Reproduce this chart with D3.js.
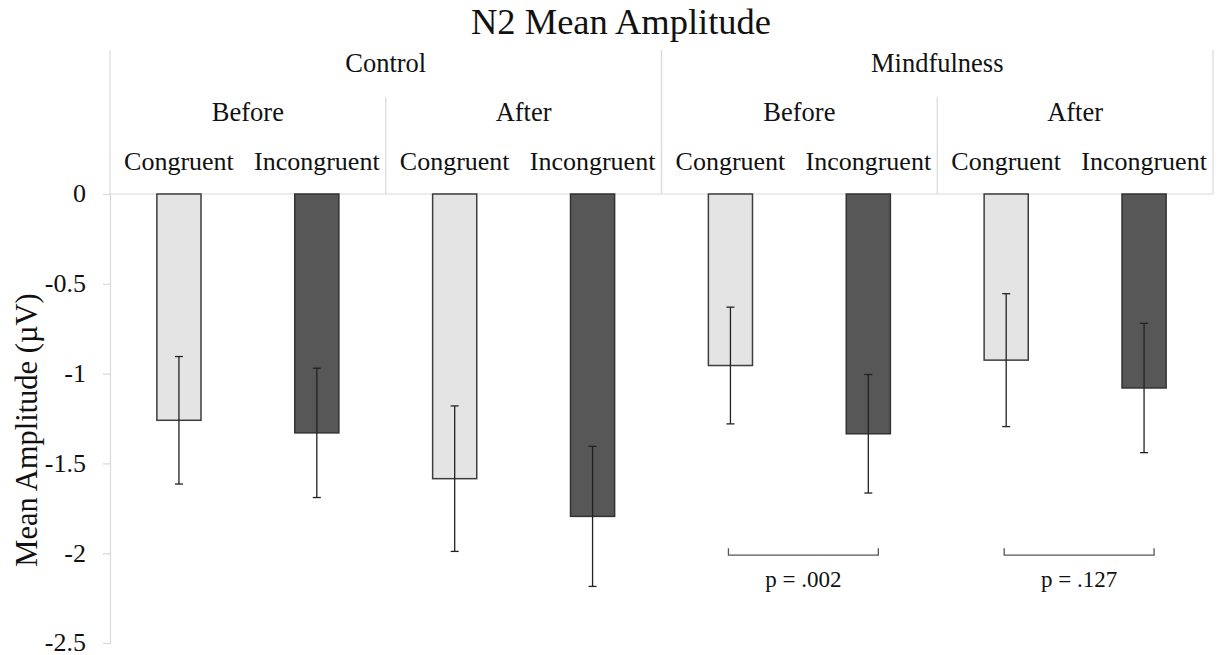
<!DOCTYPE html>
<html>
<head>
<meta charset="utf-8">
<script src="https://cdn.jsdelivr.net/npm/d3@7"></script>
<style>
  html, body { margin: 0; padding: 0; background: #fff; }
  svg text { font-family: "Liberation Serif", "Times New Roman", serif; fill: #111; }
</style>
</head>
<body>
<svg id="chart" width="1223" height="655"></svg>
<script>
// Hierarchical categories: group > session > condition
const groups = ["Control", "Mindfulness"];
const sessions = ["Before", "After"];
const conditions = ["Congruent", "Incongruent"];

// N2 mean amplitude (µV), one value per bar, in the order group > session > condition
const means = [-1.26, -1.33, -1.585, -1.795, -0.955, -1.335, -0.925, -1.08];
// Error bar half-widths (µV)
const errors = [0.355, 0.36, 0.405, 0.39, 0.325, 0.33, 0.37, 0.36];

// Y axis ticks and their labels
const yTicks = [0, -0.5, -1, -1.5, -2, -2.5];
const yTickLabels = ["0", "-0.5", "-1", "-1.5", "-2", "-2.5"];

// Significance brackets: bar index pairs and their labels
const brackets = [
  { from: 4, to: 5, label: "p = .002" },
  { from: 6, to: 7, label: "p = .127" }
];
const bracketLevel = -2.0;

const fills = { Congruent: "#e5e4e5", Incongruent: "#575757" };
const strokes = { Congruent: "#3d3d3d", Incongruent: "#333" };

// Flattened bar records
const bars = [];
groups.forEach(g => sessions.forEach(s => conditions.forEach(c => {
  const i = bars.length;
  bars.push({ key: `${g}|${s}|${c}`, group: g, session: s, condition: c, value: means[i], err: errors[i] });
})));

const svg = d3.select("#chart");
const left = 110, right = 1213, top0 = 194, bottom = 643;
const gridColor = "#d9d9d9";

const x = d3.scaleBand().domain(bars.map(d => d.key)).range([left, right]).padding(0);
const y = d3.scaleLinear().domain([0, -2.5]).range([top0, bottom]);
const barW = x.bandwidth() * 0.32;
const cx = d => x(d.key) + x.bandwidth() / 2;

// Title
svg.append("text")
  .attr("x", 621).attr("y", 34)
  .attr("text-anchor", "middle")
  .style("font-size", "36.5px")
  .text("N2 Mean Amplitude");

// Y axis
const yAxis = d3.axisLeft(y).tickValues(yTicks).tickSize(7).tickPadding(17)
  .tickFormat((d, i) => yTickLabels[i]);
const ga = svg.append("g").attr("transform", `translate(${left},0)`).call(yAxis);
ga.select(".domain").attr("stroke", gridColor).attr("stroke-width", 1.2);
ga.selectAll(".tick line").attr("stroke", gridColor).attr("stroke-width", 1.2);
ga.selectAll(".tick text")
  .style("font-family", '"Liberation Serif", "Times New Roman", serif')
  .style("font-size", "26px").attr("fill", "#111").attr("dy", "0.3em");

// Y axis title
svg.append("text")
  .attr("transform", `translate(37,430) rotate(-90)`)
  .attr("text-anchor", "middle")
  .style("font-size", "30.5px")
  .text("Mean Amplitude (µV)");

// Zero baseline spanning the category area
svg.append("line")
  .attr("x1", left).attr("x2", right).attr("y1", y(0)).attr("y2", y(0))
  .attr("stroke", gridColor).attr("stroke-width", 1.2);

// Multi-level category header
const groupKeys = g => bars.filter(b => b.group === g);
const sessionKeys = (g, s) => bars.filter(b => b.group === g && b.session === s);
const spanOf = arr => [x(arr[0].key), x(arr[arr.length - 1].key) + x.bandwidth()];

const head = svg.append("g");
groups.forEach(g => {
  const [a, b] = spanOf(groupKeys(g));
  head.append("text").attr("x", (a + b) / 2).attr("y", 72)
    .attr("text-anchor", "middle").style("font-size", "26.5px").text(g);
  [a, b].forEach(xx => head.append("line")
    .attr("x1", xx).attr("x2", xx).attr("y1", 50).attr("y2", y(0))
    .attr("stroke", gridColor).attr("stroke-width", 1.2));
  sessions.forEach((s, si) => {
    const [sa, sb] = spanOf(sessionKeys(g, s));
    head.append("text").attr("x", (sa + sb) / 2).attr("y", 121)
      .attr("text-anchor", "middle").style("font-size", "26.5px").text(s);
    if (si > 0) head.append("line")
      .attr("x1", sa).attr("x2", sa).attr("y1", 97).attr("y2", y(0))
      .attr("stroke", gridColor).attr("stroke-width", 1.2);
  });
});
head.selectAll(null).data(bars).enter().append("text")
  .attr("x", cx).attr("y", 170)
  .attr("text-anchor", "middle").style("font-size", "26px")
  .text(d => d.condition);

// Bars
svg.append("g").selectAll("rect").data(bars).enter().append("rect")
  .attr("x", d => cx(d) - barW / 2)
  .attr("y", y(0))
  .attr("width", barW)
  .attr("height", d => y(d.value) - y(0))
  .attr("fill", d => fills[d.condition])
  .attr("stroke", d => strokes[d.condition])
  .attr("stroke-width", 1.5);

// Error bars
const eb = svg.append("g").attr("stroke", "#222").attr("stroke-width", 1.3);
bars.forEach(d => {
  const c = cx(d);
  eb.append("line").attr("x1", c).attr("x2", c)
    .attr("y1", y(d.value + d.err)).attr("y2", y(d.value - d.err));
  [d.value + d.err, d.value - d.err].forEach(v => eb.append("line")
    .attr("x1", c - 4).attr("x2", c + 4).attr("y1", y(v)).attr("y2", y(v)));
});

// Significance brackets
const br = svg.append("g");
brackets.forEach(b => {
  const x1 = cx(bars[b.from]) - 2, x2 = cx(bars[b.to]) + 10;
  const yy = y(bracketLevel) + 2;
  br.append("path")
    .attr("d", `M${x1},${yy - 7}V${yy}H${x2}V${yy - 7}`)
    .attr("fill", "none").attr("stroke", "#555").attr("stroke-width", 1.3);
  br.append("text").attr("x", (x1 + x2) / 2).attr("y", yy + 32)
    .attr("text-anchor", "middle").style("font-size", "23px").text(b.label);
});
</script>
</body>
</html>
